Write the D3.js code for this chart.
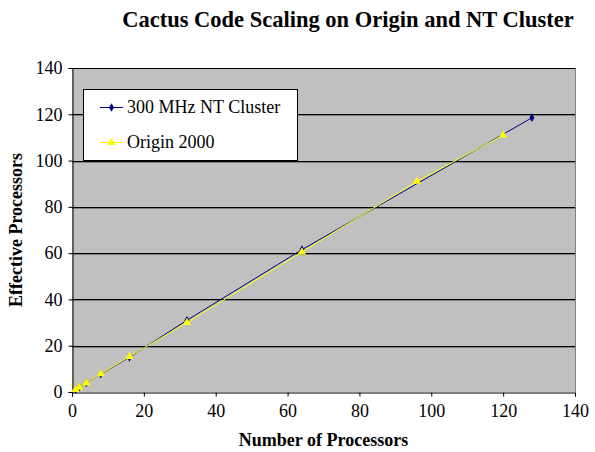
<!DOCTYPE html>
<html>
<head>
<meta charset="utf-8">
<script src="https://cdn.jsdelivr.net/npm/d3@7"></script>
<style>
body{margin:0;background:#fff;}
text{font-family:"Liberation Serif","Times New Roman",serif;}
</style>
</head>
<body>
<div id="chart"></div>
<script>
// data
var ntProcs=[1,2,4,8,16,32,64,128];
var ntEffective=[1,2,3.9,7.7,15,31,61.5,118.5];
var originProcs=[1,2,4,8,16,32,64,96,120];
var originEffective=[1,2,3.9,7.8,15.3,30,60.5,91,111];
var xTicks=[0,20,40,60,80,100,120,140];
var yTicks=[0,20,40,60,80,100,120,140];
var seriesNames=["300 MHz NT Cluster","Origin 2000"];

var W=595,H=452;
var pLeft=72,pRight=575,pTop=68,pBottom=392;
var serif="'Liberation Serif','Times New Roman',serif";

var svg=d3.select("#chart").append("svg")
	.attr("width",W)
	.attr("height",H);

var x=d3.scaleLinear().domain([0,140]).range([pLeft,pRight]);
var y=d3.scaleLinear().domain([0,140]).range([pBottom,pTop]);

// plot background
svg.append("rect")
	.attr("x",pLeft).attr("y",pTop)
	.attr("width",pRight-pLeft).attr("height",pBottom-pTop)
	.style("fill","#c0c0c0");

// gridlines (black with grey shadow)
var grid=svg.append("g");
yTicks.slice(1,-1).forEach(function(t){
	grid.append("line")
		.attr("x1",pLeft).attr("x2",pRight)
		.attr("y1",Math.round(y(t))+1.5).attr("y2",Math.round(y(t))+1.5)
		.style("stroke","#808080");
	grid.append("line")
		.attr("x1",pLeft).attr("x2",pRight)
		.attr("y1",Math.round(y(t))+0.5).attr("y2",Math.round(y(t))+0.5)
		.style("stroke","#000");
});

// plot border top / right
svg.append("line").attr("x1",pLeft).attr("x2",pRight).attr("y1",pTop+0.5).attr("y2",pTop+0.5).style("stroke","#000");
svg.append("line").attr("x1",pRight+0.5).attr("x2",pRight+0.5).attr("y1",pTop).attr("y2",pBottom).style("stroke","#808080");

// axes
var xAxis=svg.append("g")
	.attr("transform","translate(0,"+(pBottom+0.5)+")")
	.call(d3.axisBottom(x).tickValues(xTicks).tickSize(4).tickPadding(8));
var yAxis=svg.append("g")
	.attr("transform","translate("+(pLeft+0.5)+",0)")
	.call(d3.axisLeft(y).tickValues(yTicks).tickSize(4).tickPadding(6));
[xAxis,yAxis].forEach(function(a){
	a.attr("font-family",serif).attr("font-size",18);
	a.select(".domain").style("stroke","#000");
	a.selectAll("line").style("stroke","#000");
	a.selectAll("text").style("fill","#000");
});

// lines
var line=d3.line()
	.x(function(d){return x(d[0])})
	.y(function(d){return y(d[1])});

var nt=d3.zip(ntProcs,ntEffective);
var og=d3.zip(originProcs,originEffective);

svg.append("path").datum(nt)
	.attr("d",line)
	.style("fill","none").style("stroke","#000080").style("stroke-width",1);

svg.selectAll(".ntpt").data(nt).enter().append("path")
	.attr("class","ntpt")
	.attr("transform",function(d){return "translate("+x(d[0])+","+y(d[1])+")"})
	.attr("d",d3.symbol().type(d3.symbolDiamond).size(22))
	.style("fill","#000080");

svg.append("path").datum(og)
	.attr("d",line)
	.style("fill","none").style("stroke","#ffff00").style("stroke-width",1);

svg.selectAll(".ogpt").data(og).enter().append("path")
	.attr("class","ogpt")
	.attr("transform",function(d){return "translate("+x(d[0])+","+y(d[1])+")"})
	.attr("d",d3.symbol().type(d3.symbolTriangle).size(30))
	.style("fill","#ffff00");

// legend
var lg=svg.append("g");
lg.append("rect")
	.attr("x",83.5).attr("y",89.5)
	.attr("width",214).attr("height",71)
	.style("fill","#fff").style("stroke","#000");
var colors=["#000080","#ffff00"];
var symbols=[d3.symbolDiamond,d3.symbolTriangle];
var sizes=[22,30];
seriesNames.forEach(function(name,i){
	var ly=107+i*35;
	lg.append("line")
		.attr("x1",100).attr("x2",123)
		.attr("y1",ly+0.5).attr("y2",ly+0.5)
		.style("stroke",colors[i]);
	lg.append("path")
		.attr("transform","translate(111.5,"+(ly+0.5)+")")
		.attr("d",d3.symbol().type(symbols[i]).size(sizes[i]))
		.style("fill",colors[i]);
	lg.append("text")
		.attr("x",127).attr("y",ly+6)
		.style("font-size","18px")
		.text(name);
});

// titles
svg.append("text")
	.attr("x",348).attr("y",27)
	.attr("text-anchor","middle")
	.style("font-size","22.5px").style("font-weight","bold")
	.text("Cactus Code Scaling on Origin and NT Cluster");

svg.append("text")
	.attr("x",(pLeft+pRight)/2).attr("y",446)
	.attr("text-anchor","middle")
	.style("font-size","18px").style("font-weight","bold")
	.text("Number of Processors");

svg.append("text")
	.attr("transform","translate(22,"+((pTop+pBottom)/2)+") rotate(-90)")
	.attr("text-anchor","middle")
	.style("font-size","18px").style("font-weight","bold")
	.text("Effective Processors");
</script>
</body>
</html>
